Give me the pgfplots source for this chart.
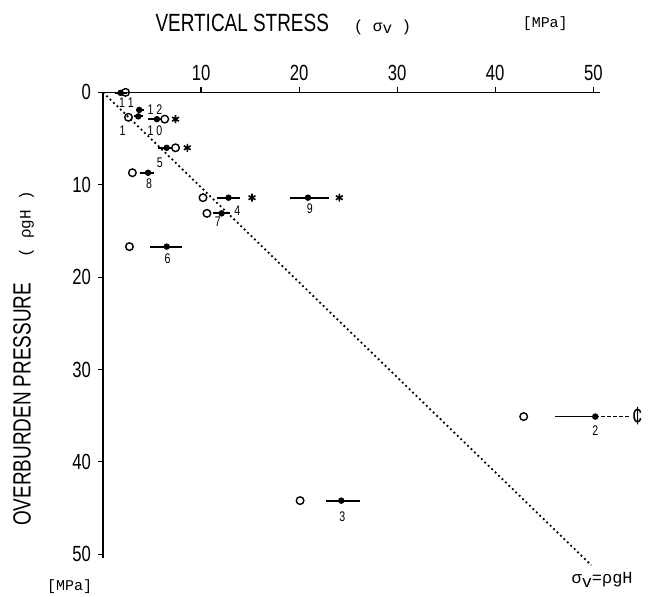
\documentclass[border=0pt]{standalone}
\usepackage{fontspec}
\setmainfont{Liberation Sans}
\newfontfamily\condfont{Liberation Sans}[FakeStretch=0.76]
\newfontfamily\monofont{Liberation Mono}
\usepackage{pgfplots}
\pgfplotsset{compat=1.18}

% filled points with their ranges: x y minus plus
\pgfplotstableread{
x     y     em   ep
1.8   0.05  0.6  0.6
3.6   2.6   0.4  0.5
3.7   1.9   0.3  0.5
5.5   2.9   0.9  0.5
6.5   6.0   0.9  0.5
4.6   8.7   0.8  0.6
12.8  11.4  1.2  1.2
20.9  11.4  1.8  2.1
12.1  13.1  0.9  0.9
6.5   16.7  1.7  1.6
50.2  35.1  4.1  0.0
24.3  44.2  1.6  1.9
}\filled

\pgfplotstableread{
x     y
2.3   0.0
2.6   2.7
6.3   2.9
7.4   6.0
3.0   8.7
10.2  11.4
10.6  13.1
2.7   16.7
42.9  35.1
20.1  44.2
}\open

\pgfplotstableread{
x     y
7.4   2.9
8.6   6.0
15.2  11.4
24.1  11.4
}\stars

\pgfplotstableread[col sep=comma]{
x,y,l
2.4,1.1,1 1
5.3,1.9,1 2
2.0,4.1,1
5.3,4.1,1 0
5.8,7.6,5
4.7,9.9,8
13.7,12.8,4
11.7,14.0,7
21.1,12.6,9
6.6,18.0,6
24.4,45.9,3
50.2,36.6,2
}\labels

\begin{document}
\begin{tikzpicture}
\begin{axis}[
    x=4.9bp, y=4.615bp,
    y dir=reverse,
    xmin=0, xmax=50.7,
    ymin=0, ymax=50.4,
    axis x line=top, axis y line=left,
    axis line style={-, line width=0.7pt},
    clip=false,
    xtick={10,20,30,40,50},
    ytick={0,10,20,30,40,50},
    tick align=outside,
    major tick length=2.5bp,
    tick style={line width=0.6pt, black},
    /pgf/number format/assume math mode=true,
    ticklabel style={font=\condfont\fontsize{11}{12}\selectfont},
]
% sigma_v = rho g H
\addplot[black, line width=0.9pt, dash pattern=on 0.9pt off 1.5pt] coordinates {(0,0) (49.8,51.2)};

\addplot[only marks, mark=*, mark size=1.4pt, black,
    error bars/.cd, x dir=both, x explicit, error mark=none,
    error bar style={line width=0.9pt}]
    table[x=x, y=y, x error minus=em, x error plus=ep] {\filled};
\addplot[black, line width=0.7pt, dash pattern=on 2pt off 1pt] coordinates {(50.2,35.1) (53.6,35.1)};

\addplot[only marks, mark=o, mark size=1.9pt, black, line width=0.7pt] table {\open};
\addplot[only marks, mark=asterisk, mark size=2pt, black, line width=0.8pt] table {\stars};

\addplot[draw=none, mark=none, nodes near coords, point meta=explicit symbolic,
    every node near coord/.style={anchor=center, inner sep=0pt,
        font=\condfont\fontsize{7}{8}\selectfont}]
    table[x=x, y=y, meta=l] {\labels};

\node[font=\condfont\fontsize{12.5}{14}\selectfont] at (axis cs:54.5,35.1) {¢};

\node[font=\condfont\fontsize{12.5}{14}\selectfont] at (axis cs:18.4,-7.4)
    {VERTICAL STRESS\quad{\monofont\fontsize{8}{9}\selectfont( σ\raisebox{-0.3ex}{v} )}};
\node[font=\monofont\fontsize{7.5}{9}\selectfont] at (axis cs:45.1,-7.4) {[MPa]};
\node[font=\condfont\fontsize{12.5}{14}\selectfont, rotate=90] at (axis cs:-8.1,28.8)
    {OVERBURDEN PRESSURE\quad{\monofont\fontsize{8}{9}\selectfont( ρgH )}};
\node[font=\monofont\fontsize{7.5}{9}\selectfont] at (axis cs:-3.4,53.5) {[MPa]};
\node[font=\monofont\fontsize{8.5}{10}\selectfont] at (axis cs:50.9,52.8) {σ\raisebox{-0.4ex}{v}=ρgH};

\coordinate (bbA) at (axis cs:-10.5,54.6);
\coordinate (bbB) at (axis cs:56.8,-10);
\end{axis}
\pgfresetboundingbox
\path[use as bounding box] (bbA) rectangle (bbB);
\end{tikzpicture}
\end{document}
